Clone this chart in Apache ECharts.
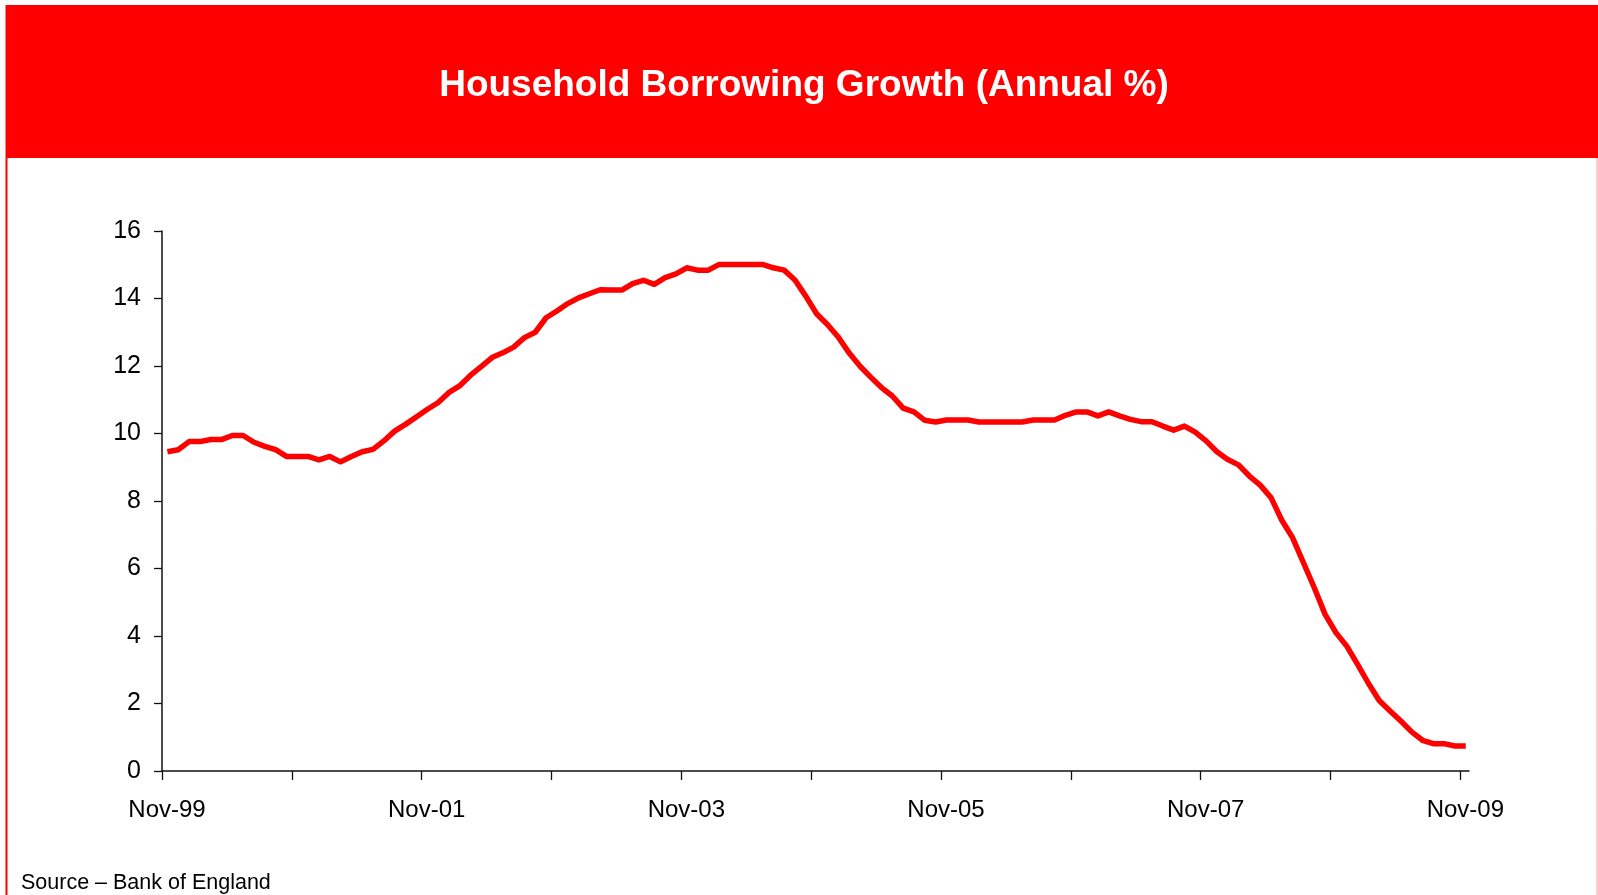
<!DOCTYPE html>
<html>
<head>
<meta charset="utf-8">
<title>Household Borrowing Growth</title>
<script src="https://cdn.jsdelivr.net/npm/echarts@6/dist/echarts.min.js"></script>
<style>
	html, body { margin: 0; padding: 0; background: #fff; }
	#borrowChart { width: 1598px; height: 895px; }
</style>
</head>
<body>
<div id="borrowChart"></div>
<script>
// Monthly values, Nov-99 .. Nov-09 (annual % growth)
var growthValues = [
	9.46, 9.52, 9.76, 9.76, 9.82, 9.82, 9.94, 9.94, 9.74, 9.62, 9.52, 9.32,
	9.32, 9.32, 9.22, 9.32, 9.16, 9.32, 9.46, 9.53, 9.78, 10.07, 10.27, 10.49,
	10.71, 10.91, 11.21, 11.41, 11.72, 11.98, 12.25, 12.39, 12.56, 12.84, 13.0, 13.43,
	13.63, 13.85, 14.02, 14.14, 14.26, 14.25, 14.25, 14.44, 14.54, 14.42, 14.62, 14.73,
	14.91, 14.84, 14.84, 15.01, 15.01, 15.01, 15.01, 15.01, 14.91, 14.84, 14.55, 14.07,
	13.55, 13.23, 12.86, 12.39, 12.0, 11.67, 11.36, 11.11, 10.75, 10.64, 10.39, 10.34,
	10.4, 10.4, 10.4, 10.34, 10.34, 10.34, 10.34, 10.34, 10.4, 10.4, 10.4, 10.54,
	10.64, 10.64, 10.52, 10.64, 10.52, 10.42, 10.35, 10.35, 10.22, 10.1, 10.22, 10.04,
	9.78, 9.46, 9.23, 9.07, 8.74, 8.47, 8.1, 7.43, 6.91, 6.17, 5.43, 4.64,
	4.1, 3.7, 3.16, 2.6, 2.09, 1.78, 1.48, 1.16, 0.91, 0.81, 0.81, 0.74,
	0.74
];
// x axis: months since Nov-99
var tickMonths = [0, 12, 24, 36, 48, 60, 72, 84, 96, 108, 120];
var labelMonths = [0, 24, 48, 72, 96, 120];
var tickLabels = ['Nov-99', 'Nov-01', 'Nov-03', 'Nov-05', 'Nov-07', 'Nov-09'];

var seriesData = growthValues.map(function (v, i) {
	// each monthly value sits mid-month on the date axis
	return [i + 0.5, v];
});

var myChart = echarts.init(document.getElementById('borrowChart'));

var option = {
	animation: false,
	backgroundColor: '#ffffff',
	textStyle: { fontFamily: 'Liberation Sans, Arial, sans-serif' },
	grid: {
		left: 162,
		right: 129,
		top: 231,
		bottom: 124
	},
	xAxis: {
		type: 'value',
		min: 0,
		max: 120.8,
		splitLine: { show: false },
		axisLine: { lineStyle: { color: '#111', width: 1.5 } },
		axisTick: {
			show: true,
			length: 9,
			customValues: tickMonths,
			lineStyle: { color: '#111', width: 1.3 }
		},
		axisLabel: {
			customValues: labelMonths,
			margin: 27,
			fontSize: 24,
			color: '#000',
			padding: [0, 0, 0, 10],
			formatter: function (val) {
				var idx = labelMonths.indexOf(Math.round(val));
				return idx >= 0 ? tickLabels[idx] : '';
			}
		}
	},
	yAxis: {
		type: 'value',
		min: 0,
		max: 16,
		interval: 2,
		splitLine: { show: false },
		axisLine: { show: true, lineStyle: { color: '#111', width: 1.5 } },
		axisTick: { show: true, length: 8, lineStyle: { color: '#111', width: 1.3 } },
		axisLabel: { margin: 21, fontSize: 25, color: '#000', padding: [3, 0, 0, 0] }
	},
	series: [{
		type: 'line',
		data: seriesData,
		showSymbol: false,
		symbol: 'none',
		lineStyle: { color: '#ff0000', width: 5.5, join: 'round' }
	}],
	graphic: [
		// red title band
		{
			type: 'rect',
			shape: { x: 6, y: 5, width: 1592, height: 153 },
			style: { fill: '#ff0000' },
			silent: true
		},
		{
			type: 'line',
			shape: { x1: 6.5, y1: 5, x2: 6.5, y2: 895 },
			style: { stroke: '#ff0000', lineWidth: 2 },
			silent: true
		},
		{
			type: 'line',
			shape: { x1: 1597, y1: 158, x2: 1597, y2: 895 },
			style: { stroke: '#f3a0a0', lineWidth: 1 },
			silent: true
		},
		{
			type: 'text',
			x: 804,
			y: 86,
			style: {
				text: 'Household Borrowing Growth (Annual %)',
				fill: '#ffffff',
				font: 'bold 37px "Liberation Sans", Arial, sans-serif',
				textAlign: 'center',
				textVerticalAlign: 'middle'
			},
			silent: true
		},
		{
			type: 'text',
			x: 21,
			y: 883,
			style: {
				text: 'Source \u2013 Bank of England',
				fill: '#000000',
				font: '21.5px "Liberation Sans", Arial, sans-serif',
				textAlign: 'left',
				textVerticalAlign: 'middle'
			},
			silent: true
		}
	]
};

myChart.setOption(option);
</script>
</body>
</html>
